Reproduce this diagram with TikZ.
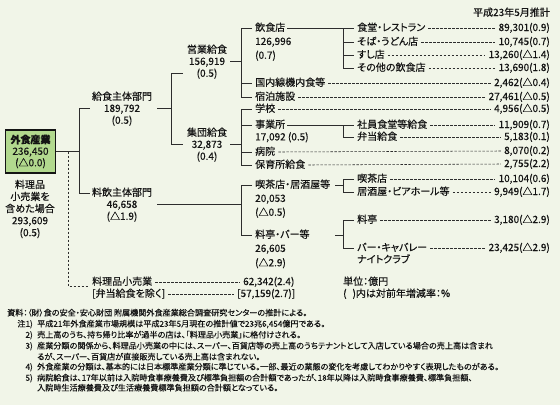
\documentclass[tikz,border=0pt]{standalone}
\usepackage{fontspec}
\setmainfont{Noto Sans CJK JP}[RawFeature=+palt, FakeBold=0.35]
\usetikzlibrary{positioning}
\definecolor{bgcol}{RGB}{241,245,232}
\definecolor{boxcol}{RGB}{178,217,142}
\definecolor{inkcol}{RGB}{20,20,20}
\definecolor{linecol}{RGB}{45,45,45}
\newcommand\fsmain{\fontsize{10}{11.5}\selectfont}
\newcommand\fsnote{\fontsize{8.1}{10}\selectfont}
\tikzset{
  txt/.style={inner sep=0pt, text=inkcol, font=\fsmain, text height=8pt, text depth=2pt},
  lbl/.style={txt, anchor=west},
  val/.style={txt, anchor=east},
  grp/.style={inner sep=0pt, align=center, text=inkcol, font=\fontsize{10}{12}\selectfont},
  rootbox/.style={draw=inkcol, line width=1.1pt, fill=boxcol, minimum width=50pt, minimum height=43pt,
    inner sep=0pt, align=center, text=inkcol, font=\fsmain},
  link/.style={draw=linecol, line width=0.85pt},
  lead/.style={draw=linecol, line width=0.55pt, dash pattern=on 2.5pt off 1.5pt},
  note/.style={inner sep=0pt, anchor=west, text=inkcol, font=\fsnote, text height=7pt, text depth=1.5pt},
}

\begin{document}
\begin{tikzpicture}[x=1pt, y=-1pt]
  \fill[bgcol] (0,0) rectangle (560,405);
  \useasboundingbox (0,0) rectangle (560,405);

  \node[val] (date) at (550,13) {平成23年5月推計};

  % root
  \node[rootbox] (root) at (30.5,151.5) {\textbf{外食産業}\\236,450\\(△0.0)};
  \node[grp] (incl) at (30,209) {料理品\\小売業を\\含めた場合\\293,609\\(0.5)};

  % first level
  \node[txt] (kyu) at (122,97) {給食主体部門};
  \node[txt, below=1.5pt of kyu] (kyuv) {189,792};
  \node[txt, below=1.5pt of kyuv] (kyup) {(0.5)};
  \node[txt] (ryo) at (122,193) {料飲主体部門};
  \node[txt, below=1.5pt of ryo] (ryov) {46,658};
  \node[txt, below=1.5pt of ryov] (ryop) {(△1.9)};

  % second level
  \node[txt] (ei) at (207,50) {営業給食};
  \node[txt, below=1.5pt of ei] (eiv) {156,919};
  \node[txt, below=1.5pt of eiv] (eip) {(0.5)};
  \node[txt] (syu) at (207,133) {集団給食};
  \node[txt, below=1.5pt of syu] (syuv) {32,873};
  \node[txt, below=1.5pt of syuv] (syup) {(0.4)};

  % third level
  \node[lbl] (insyoku) at (255,28) {飲食店};
  \node[txt, below=3.5pt of insyoku.south west, anchor=north west] (insyokuv) {126,996};
  \node[txt, below=3.5pt of insyokuv.south west, anchor=north west] (insyokup) {(0.7)};
  \node[lbl] (kokunai) at (255,83) {国内線機内食等};
  \node[lbl] (syukuhaku) at (255,97) {宿泊施設};
  \node[lbl] (gakko) at (255,109) {学校};
  \node[lbl] (jigyo) at (255,125) {事業所};
  \node[txt, below=2pt of jigyo.south west, anchor=north west] (jigyov) {17,092 (0.5)};
  \node[lbl] (byoin) at (255,152) {病院};
  \node[lbl] (hoiku) at (255,165) {保育所給食};
  \node[lbl] (kissa) at (255,185) {喫茶店・居酒屋等};
  \node[txt, below=3.5pt of kissa.south west, anchor=north west] (kissav) {20,053};
  \node[txt, below=3.5pt of kissav.south west, anchor=north west] (kissap) {(△0.5)};
  \node[lbl] (ryoba) at (255,235) {料亭・バー等};
  \node[txt, below=3.5pt of ryoba.south west, anchor=north west] (ryobav) {26,605};
  \node[txt, below=4pt of ryobav.south west, anchor=north west] (ryobap) {(△2.9)};

  % leaves
  \node[lbl] (syokudo) at (357,28) {食堂・レストラン};
  \node[lbl] (soba) at (357,42) {そば・うどん店};
  \node[lbl] (sushi) at (357,55) {すし店};
  \node[lbl] (sonota) at (357,68) {その他の飲食店};
  \node[lbl] (syain) at (357,125) {社員食堂等給食};
  \node[lbl] (bento) at (357,137) {弁当給食};
  \node[lbl] (kissaten) at (357,179) {喫茶店};
  \node[lbl] (izakaya) at (357,192) {居酒屋・ビアホール等};
  \node[lbl] (ryotei) at (357,220) {料亭};
  \node[lbl] (bar) at (357,248) {バー・キャバレー};
  \node[txt, below=1.5pt of bar.south west, anchor=north west] (night) {ナイトクラブ};

  % values
  \node[val] (syokudov) at (550,28) {89,301(0.9)};
  \node[val] (sobav) at (550,42) {10,745(0.7)};
  \node[val] (sushiv) at (550,55) {13,260(△1.4)};
  \node[val] (sonotav) at (550,68) {13,690(1.8)};
  \node[val] (kokunaiv) at (550,83) {2,462(△0.4)};
  \node[val] (syukuhakuv) at (550,97) {27,461(△0.5)};
  \node[val] (gakkov) at (550,109) {4,956(△0.5)};
  \node[val] (syainv) at (550,125) {11,909(0.7)};
  \node[val] (bentov) at (550,137) {5,183(0.1)};
  \node[val] (byoinv) at (550,151) {8,070(0.2)};
  \node[val] (hoikuv) at (550,164) {2,755(2.2)};
  \node[val] (kissatenv) at (550,179) {10,104(0.6)};
  \node[val] (izakayav) at (550,192) {9,949(△1.7)};
  \node[val] (ryoteiv) at (550,220) {3,180(△2.9)};
  \node[val] (barv) at (550,248) {23,425(△2.9)};

  % retail
  \node[lbl] (ryohin) at (92,282) {料理品小売業};
  \node[lbl] (bentoex) at (92,294) {[弁当給食を除く]};
  \node[lbl] (ryohinv) at (243,282) {62,342(2.4)};
  \node[lbl] (bentoexv) at (237,294) {[57,159(2.7)]};
  \node[lbl] (unit) at (343,282) {単位：億円};
  \node[lbl] (parnote) at (343,294) {(\hspace{0.6em})内は対前年増減率：\%};

  % tree lines
  \draw[link] (root.east) -- ++(23.5,0) coordinate (rootj);
  \draw[link] ([xshift=-2pt]kyu.west |- kyuv) -| (rootj) |- ([xshift=-2pt]ryo.west);
  \coordinate (dsplit) at ([xshift=12.5pt]root.east);
  \draw[lead] (dsplit) |- ([xshift=-4pt, yshift=-4.5pt]ryohin.west);

  \draw[link] ([xshift=5pt]kyu.east |- kyuv) -- ++(14,0) coordinate (kyuj);
  \draw[link] ([xshift=-4pt]ei.west |- eip) -| (kyuj) |- ([xshift=-4pt]syu.west |- syuv);

  \draw[link] ([xshift=3pt]ei.east |- eiv) -- ([xshift=-14pt]insyoku.west |- eiv);
  \draw[link] ([xshift=-3pt]insyoku.west) -| ([xshift=-14pt]syukuhaku.west) -- ([xshift=-3pt]syukuhaku.west);
  \draw[link] ([xshift=-14pt]kokunai.west) -- ([xshift=-3pt]kokunai.west);

  \draw[link] ([xshift=3pt]syu.east |- syuv) -- ([xshift=-14pt]gakko.west |- syuv);
  \draw[link] ([xshift=-3pt]gakko.west) -| ([xshift=-14pt]hoiku.west) -- ([xshift=-3pt]hoiku.west);
  \foreach \n in {jigyo, byoin}
    \draw[link] ([xshift=-14pt]\n.west) -- ([xshift=-3pt]\n.west);

  \draw[link] ([xshift=5pt]ryo.east |- ryov) -- ([xshift=-14pt]kissa.west |- ryov);
  \draw[link] ([xshift=-3pt]kissa.west) -| ([xshift=-14pt]ryoba.west) -- ([xshift=-3pt]ryoba.west);

  \draw[link] ([xshift=2pt]insyoku.east) -- ([xshift=-3pt]syokudo.west);
  \draw[link] ([xshift=-14pt]syokudo.west) |- ([xshift=-3pt]sonota.west);
  \foreach \n in {soba, sushi}
    \draw[link] ([xshift=-14pt]\n.west) -- ([xshift=-3pt]\n.west);

  \draw[link] ([xshift=2pt]jigyo.east) -- ([xshift=-3pt]syain.west);
  \draw[link] ([xshift=-14pt]syain.west) |- ([xshift=-3pt]bento.west);

  \draw[link] ([xshift=-22pt]kissaten.west |- kissa) -- ([xshift=-14pt]kissaten.west |- kissa);
  \draw[link] ([xshift=-3pt]kissaten.west) -| ([xshift=-14pt]izakaya.west) -- ([xshift=-3pt]izakaya.west);
  \draw[link] ([xshift=-22pt]ryotei.west |- ryoba) -- ([xshift=-14pt]ryotei.west |- ryoba);
  \draw[link] ([xshift=-3pt]ryotei.west) -| ([xshift=-14pt]bar.west) -- ([xshift=-3pt]bar.west);

  % leaders
  \foreach \a in {syokudo, soba, sushi, sonota, kokunai, syukuhaku, gakko, syain, bento,
                  byoin, hoiku, kissaten, izakaya, ryotei, bar, ryohin, bentoex}
    \draw[lead] ([xshift=3pt]\a.east) -- ([xshift=-3pt]\a v.west);

  % notes
  \node[note] (src) at (7,313) {資料：（財）食の安全・安心財団 附属機関外食産業総合調査研究センターの推計による。};
  \node[note, anchor=east] (m1) at (33,324) {注1)};
  \node[note, anchor=east] (m2) at (33,335) {2)};
  \node[note, anchor=east] (m3) at (33,346) {3)};
  \node[note, anchor=east] (m4) at (33,367) {4)};
  \node[note, anchor=east] (m5) at (33,378) {5)};
  \node[note] (t1) at (37,324) {平成21年外食産業市場規模は平成23年5月現在の推計値で23兆6,454億円である。};
  \node[note] (t2) at (37,335) {売上高のうち、持ち帰り比率が過半の店は、「料理品小売業」に格付けされる。};
  \node[note] (t3) at (37,346) {産業分類の関係から、料理品小売業の中には、スーパー、百貨店等の売上高のうちテナントとして入店している場合の売上高は含まれ};
  \node[note] (t3b) at (37,357) {るが、スーパー、百貨店が直接販売している売上高は含まれない。};
  \node[note] (t4) at (37,367) {外食産業の分類は、基本的には日本標準産業分類に準じている。一部、最近の業態の変化を考慮してわかりやすく表現したものがある。};
  \node[note] (t5) at (37,378) {病院給食は、17年以前は入院時食事療養費及び標準負担額の合計額であったが、18年以降は入院時食事療養費、標準負担額、};
  \node[note] (t5b) at (37,388) {入院時生活療養費及び生活療養費標準負担額の合計額となっている。};
\end{tikzpicture}
\end{document}
